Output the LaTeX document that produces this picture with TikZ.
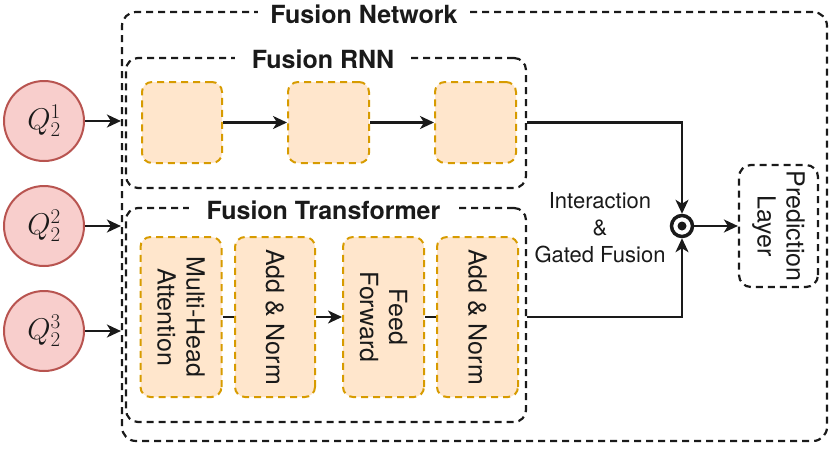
\documentclass[tikz,border=0pt]{standalone}
\usepackage{fix-cm}
\usepackage[no-math]{fontspec}
\setmainfont{TeX Gyre Heros}
\usetikzlibrary{arrows.meta}
\definecolor{qfill}{HTML}{F8CECC}
\definecolor{qline}{HTML}{B85450}
\definecolor{ofill}{HTML}{FFE6CC}
\definecolor{oline}{HTML}{D79B00}
\definecolor{ink}{HTML}{1A1A1A}
\begin{document}
\begin{tikzpicture}[x=1pt,y=-1pt,
  dsh/.style={dash pattern=on 7pt off 5pt},
  grp/.style={draw=ink, line width=2.2pt, dsh, rounded corners=14pt, inner sep=0pt},
  ttl/.style={fill=white, text=ink, font=\fontsize{25}{30}\selectfont\bfseries, inner xsep=12pt, inner ysep=3pt, anchor=base},
  obox/.style={draw=oline, fill=ofill, line width=2pt, dsh, rounded corners=10pt, inner sep=0pt},
  tbox/.style={obox, rotate=-90, align=center, text=ink, font=\fontsize{25}{29}\selectfont, minimum width=160pt, minimum height=81pt},
  qc/.style={circle, draw=qline, fill=qfill, line width=2pt, minimum size=80pt, inner sep=0pt, text=ink, font=\fontsize{30}{36}\selectfont},
  conn/.style={draw=ink, line width=2.2pt},
  arr/.style={conn, -{Stealth[length=14pt,width=13pt,inset=4pt]}},
  lbl/.style={text=ink, font=\fontsize{22}{27}\selectfont, align=center}
]
\useasboundingbox (0,0) rectangle (829,451);

% groups
\node[grp, minimum width=705pt, minimum height=429pt] (net) at (474.5,226.5) {};
\node[ttl] (tnet) at (364,23) {Fusion Network};

\node[grp, rounded corners=12pt, minimum width=400pt, minimum height=130pt] (rnn) at (326,123) {};
\node[ttl, inner xsep=17pt] (trnn) at (323,68) {Fusion RNN};

\node[grp, rounded corners=12pt, minimum width=400pt, minimum height=214pt] (trans) at (326,315) {};
\node[ttl, inner xsep=18pt] (ttrans) at (323.5,219) {Fusion Transformer};

% RNN cells
\node[obox, minimum width=80pt, minimum height=81pt] (r1) at (182,122.5) {};
\node[obox, minimum width=81pt, minimum height=81pt] (r2) at (328.5,122.5) {};
\node[obox, minimum width=81pt, minimum height=81pt] (r3) at (475.5,122.5) {};

% Transformer blocks
\node[tbox] (t1) at (181,317) {Multi-Head\\Attention};
\node[tbox, minimum height=80pt] (t2) at (275,317) {Add \& Norm};
\node[tbox] (t3) at (383.5,317) {Feed\\Forward};
\node[tbox] (t4) at (477.5,317) {Add \& Norm};

% inputs
\node[qc] (q1) at (44,121) {$Q_2^1$};
\node[qc] (q2) at (44,226) {$Q_2^2$};
\node[qc] (q3) at (44,331) {$Q_2^3$};

% fusion
\node[circle, draw=ink, line width=3.5pt, minimum size=21pt, inner sep=0pt] (dot) at (682,226) {};
\fill[ink] (dot.center) circle (4.5pt);
\node[lbl] (intl) at (600,228) {Interaction\\\&\\Gated Fusion};

\node[draw=ink, line width=2.2pt, dsh, rounded corners=12pt, rotate=-90, align=center, text=ink,
      font=\fontsize{25}{29}\selectfont, minimum width=122pt, minimum height=79pt, inner sep=0pt] (pred) at (778.5,226) {Prediction\\Layer};

% connectors
\draw[arr] (q1) -- (q1 -| net.west);
\draw[arr] (q2) -- (q2 -| net.west);
\draw[arr] (q3) -- (q3 -| net.west);
\draw[arr] (r1) -- (r2);
\draw[arr] (r2) -- (r3);
\draw[conn] (t1) -- (t2);
\draw[arr] (t2) -- (t3);
\draw[conn] (t3) -- (t4);
\draw[arr] (rnn.east |- r3.center) -| (dot.north);
\draw[arr] (trans.east |- t4.center) -| (dot.south);
\draw[arr] (dot) -- (pred);
\end{tikzpicture}
\end{document}
